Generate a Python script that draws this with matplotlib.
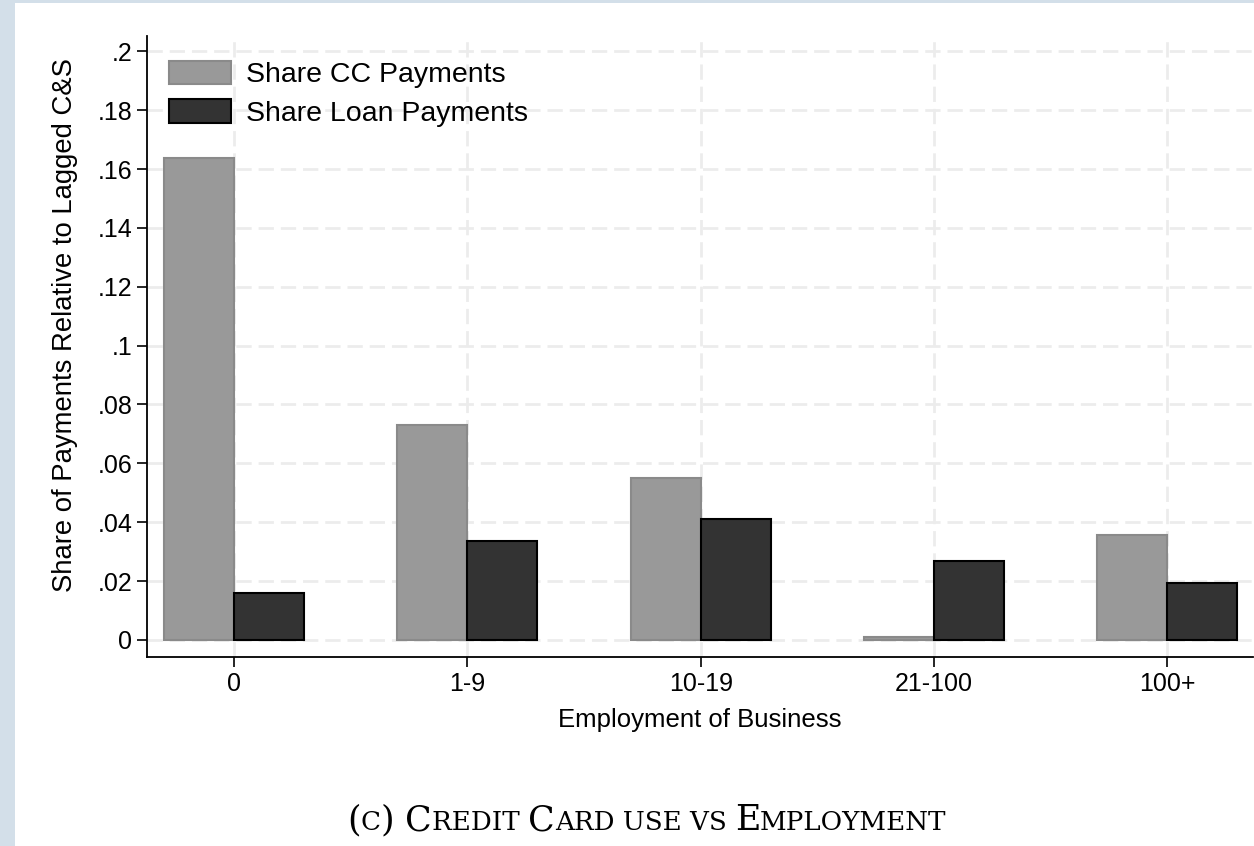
import numpy as np
import matplotlib.pyplot as plt
from matplotlib.patches import Rectangle

groups = ['0', '1-9', '10-19', '21-100', '100+']
cc_share = [0.1637, 0.0730, 0.0551, 0.0010, 0.0357]
loan_share = [0.0160, 0.0336, 0.0411, 0.0268, 0.0194]
yticks = [0, 0.02, 0.04, 0.06, 0.08, 0.1, 0.12, 0.14, 0.16, 0.18, 0.2]
ytick_labels = ['0', '.02', '.04', '.06', '.08', '.1', '.12', '.14', '.16', '.18', '.2']

plt.rcParams['font.family'] = ['Liberation Sans', 'DejaVu Sans']

W, H = 1254, 846
fig = plt.figure(figsize=(W / 100, H / 100), dpi=100, facecolor='#d3dfe9')
# white page area
fig.patches.append(Rectangle((15 / W, 0), 1, 1 - 3 / H, transform=fig.transFigure,
                             facecolor='white', edgecolor='none', zorder=-5))

ax = fig.add_axes([147 / W, 1 - 657 / H, (1253 - 147) / W, (657 - 36) / H])
ax.set_facecolor('white')

x = np.arange(len(groups))
bw = 0.3
ax.bar(x - bw / 2, cc_share, width=bw, color='#999999', edgecolor='#8a8a8a',
       linewidth=1.5, label='Share CC Payments', zorder=3)
ax.bar(x + bw / 2, loan_share, width=bw, color='#333333', edgecolor='#000000',
       linewidth=1.5, label='Share Loan Payments', zorder=3)

ax.set_xlim(-0.373, 4.367)
ax.set_ylim(-0.0058, 0.2052)
ax.set_yticks(yticks)
ax.set_yticklabels(ytick_labels)
ax.set_xticks(x)
ax.set_xticklabels(groups)
ax.tick_params(axis='both', labelsize=18, length=7, width=1.2, color='black', pad=3.5)

ax.grid(True, color='#ececec', linestyle=(0, (5.5, 2.5)), linewidth=2, zorder=0)
ax.set_axisbelow(True)

for s in ['top', 'right']:
    ax.spines[s].set_visible(False)
ax.spines['left'].set_linewidth(1.3)
ax.spines['bottom'].set_linewidth(1.3)

ax.set_xlabel('Employment of Business', fontsize=18.5, labelpad=9)
ax.set_ylabel('Share of Payments Relative to Lagged C&S', fontsize=19.8)
ax.yaxis.set_label_coords(-0.062, 0.535)

leg = ax.legend(loc='upper left', fontsize=20.5, frameon=False, handlelength=2.2,
                handleheight=0.88, handletextpad=0.5, labelspacing=0.4,
                bbox_to_anchor=(-0.001, 0.997), borderaxespad=0.5, borderpad=0.3)

# caption in small caps built from pieces
big, small = 25, 18.8
pieces = [('(', big), ('C', small), (') ', big), ('C', big), ('REDIT ', small),
          ('C', big), ('ARD USE VS ', small), ('E', big), ('MPLOYMENT', small)]
renderer = fig.canvas.get_renderer()
texts = []
for s, fs in pieces:
    t = fig.text(0, 0, s, fontsize=fs, family='DejaVu Serif',
                 va='baseline', ha='left')
    texts.append(t)
widths = [t.get_window_extent(renderer).width for t in texts]
total = sum(widths)
xpos = 647 - total / 2
for t, w in zip(texts, widths):
    t.set_x(xpos / W)
    t.set_y(1 - 830 / H)
    xpos += w

fig.savefig('out.png', dpi=100, facecolor=fig.get_facecolor())
